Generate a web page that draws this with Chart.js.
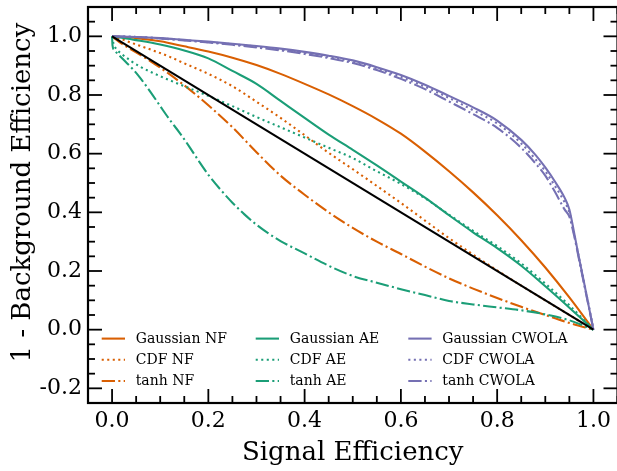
<!DOCTYPE html>
<html>
<head>
<meta charset="utf-8">
<script src="https://cdn.jsdelivr.net/npm/chart.js@4.4.0/dist/chart.umd.min.js"></script>
<style>
html,body{margin:0;padding:0;overflow:hidden;background:#fff;width:617px;height:471px}
canvas{display:block}
</style>
</head>
<body>
<canvas id="c" width="620" height="471" style="width:620px;height:471px"></canvas>
<script>
// ---------- data ----------
const xTickValues = [0, 0.2, 0.4, 0.6, 0.8, 1.0];
const yTickValues = [-0.2, 0, 0.2, 0.4, 0.6, 0.8, 1.0];

const gaussianNF_x = [0,0.02,0.05,0.1,0.15,0.2,0.25,0.3,0.35,0.4,0.45,0.5,0.55,0.6,0.65,0.7,0.75,0.8,0.85,0.9,0.95,1.0];
const gaussianNF_y = [1,0.998,0.994,0.983,0.966,0.948,0.927,0.902,0.872,0.838,0.802,0.762,0.718,0.668,0.607,0.54,0.468,0.39,0.305,0.212,0.11,0];

const cdfNF_x = [0,0.02,0.04,0.08,0.12,0.15,0.2,0.25,0.3,0.35,0.4,0.45,0.5,0.55,0.6,0.65,0.7,0.75,0.8,0.85,0.9,0.95,1.0];
const cdfNF_y = [1,0.99,0.978,0.955,0.93,0.908,0.872,0.83,0.777,0.722,0.663,0.603,0.547,0.49,0.432,0.372,0.312,0.256,0.202,0.15,0.1,0.05,0];

const tanhNF_x = [0,0.02,0.04,0.08,0.12,0.16,0.2,0.25,0.3,0.35,0.4,0.45,0.5,0.55,0.6,0.65,0.7,0.75,0.8,0.85,0.9,0.95,1.0];
const tanhNF_y = [1,0.975,0.955,0.915,0.87,0.82,0.765,0.69,0.605,0.525,0.46,0.4,0.347,0.3,0.258,0.215,0.175,0.14,0.108,0.078,0.05,0.023,0];

const gaussianAE_x = [0,0.02,0.05,0.1,0.15,0.2,0.25,0.3,0.35,0.4,0.45,0.5,0.55,0.6,0.65,0.7,0.75,0.8,0.85,0.9,0.95,1.0];
const gaussianAE_y = [1,0.995,0.987,0.972,0.952,0.925,0.882,0.838,0.78,0.722,0.665,0.613,0.56,0.505,0.45,0.39,0.332,0.278,0.218,0.148,0.075,0];

const cdfAE_x = [0,0.003,0.01,0.02,0.04,0.06,0.085,0.12,0.15,0.2,0.25,0.3,0.35,0.4,0.45,0.5,0.55,0.6,0.65,0.7,0.75,0.8,0.85,0.9,0.95,1.0];
const cdfAE_y = [1,0.975,0.955,0.94,0.915,0.895,0.875,0.85,0.83,0.797,0.762,0.725,0.69,0.655,0.62,0.585,0.54,0.497,0.448,0.392,0.337,0.285,0.226,0.157,0.083,0];

const tanhAE_x = [0,0.001,0.005,0.015,0.03,0.045,0.06,0.08,0.1,0.12,0.14,0.16,0.18,0.2,0.225,0.25,0.275,0.3,0.325,0.35,0.4,0.45,0.5,0.55,0.6,0.65,0.7,0.75,0.8,0.85,0.9,0.95,1.0];
const tanhAE_y = [1,0.968,0.952,0.935,0.91,0.885,0.855,0.81,0.762,0.715,0.672,0.625,0.575,0.528,0.478,0.433,0.393,0.358,0.328,0.302,0.26,0.218,0.183,0.16,0.138,0.118,0.098,0.086,0.076,0.066,0.052,0.032,0];

const cwola_x = [0,0.05,0.1,0.15,0.2,0.25,0.3,0.35,0.4,0.45,0.5,0.55,0.6,0.65,0.7,0.75,0.8,0.85,0.88,0.9,0.92,0.94,0.95,0.96,0.97,0.98,0.99,1.0];
const gaussianCWOLA_y = [1,0.998,0.994,0.988,0.982,0.975,0.967,0.958,0.947,0.934,0.918,0.895,0.868,0.835,0.797,0.758,0.713,0.647,0.595,0.553,0.505,0.45,0.41,0.33,0.245,0.165,0.082,0];
const cdfCWOLA_y = [1,0.998,0.993,0.987,0.98,0.973,0.965,0.955,0.944,0.93,0.914,0.891,0.862,0.828,0.79,0.748,0.703,0.635,0.58,0.54,0.49,0.435,0.4,0.325,0.245,0.165,0.085,0];
const tanhCWOLA_y = [1,0.998,0.993,0.986,0.979,0.971,0.962,0.952,0.94,0.926,0.909,0.885,0.855,0.82,0.778,0.735,0.688,0.62,0.566,0.525,0.47,0.41,0.385,0.32,0.24,0.16,0.08,0];

const random_x = [0, 1];
const random_y = [1, 0];

const labels = ['Gaussian NF','CDF NF','tanh NF','Gaussian AE','CDF AE','tanh AE','Gaussian CWOLA','CDF CWOLA','tanh CWOLA'];

// ---------- styling ----------
const ORANGE = '#d95f02', GREEN = '#1b9e77', PURPLE = '#7570b3';
const LW = 2.08;
const DOTTED = [2.08, 3.44];
const DASHDOT = [13.3, 3.3, 2.08, 3.3];
const SERIF = '"DejaVu Serif", "Liberation Serif", serif';

const pts = (xs, ys) => xs.map((v, i) => ({x: v, y: ys[i]}));
const mk = (label, xs, ys, color, dash, order) => ({
  label, data: pts(xs, ys), borderColor: color, backgroundColor: color,
  borderDash: dash, borderWidth: LW, pointRadius: 0, fill: false,
  cubicInterpolationMode: 'monotone', borderJoinStyle: 'round', order
});

const datasets = [
  mk(labels[0], gaussianNF_x, gaussianNF_y, ORANGE, [], 10),
  mk(labels[1], cdfNF_x, cdfNF_y, ORANGE, DOTTED, 9),
  mk(labels[2], tanhNF_x, tanhNF_y, ORANGE, DASHDOT, 8),
  mk(labels[3], gaussianAE_x, gaussianAE_y, GREEN, [], 7),
  mk(labels[4], cdfAE_x, cdfAE_y, GREEN, DOTTED, 6),
  mk(labels[5], tanhAE_x, tanhAE_y, GREEN, DASHDOT, 5),
  mk(labels[6], cwola_x, gaussianCWOLA_y, PURPLE, [], 4),
  mk(labels[7], cwola_x, cdfCWOLA_y, PURPLE, DOTTED, 3),
  mk(labels[8], cwola_x, tanhCWOLA_y, PURPLE, DASHDOT, 2),
  Object.assign(mk('', random_x, random_y, '#000000', [], 0), {cubicInterpolationMode: 'default', tension: 0})
];

const fmt = v => (Math.abs(v) < 1e-9 ? 0 : v).toFixed(1);

// frame + inward ticks on all four sides (major 0.2, minor 0.05)
const frameTicks = {
  id: 'frameTicks',
  afterDatasetsDraw(chart) {
    const {ctx, chartArea: {left, right, top, bottom}, scales: {x, y}} = chart;
    ctx.save();
    ctx.strokeStyle = '#000';
    ctx.lineWidth = 1.8;
    ctx.setLineDash([]);
    const seg = (a, b, c, d) => { ctx.beginPath(); ctx.moveTo(a, b); ctx.lineTo(c, d); ctx.stroke(); };
    const MAJ = 14, MIN = 7;
    for (let i = -2; i <= 22; i++) {
      const v = i * 0.05;
      if (v < x.min - 1e-9 || v > x.max + 1e-9) continue;
      const p = x.getPixelForValue(v);
      const L = (i % 4 === 0) ? MAJ : MIN;
      seg(p, bottom, p, bottom - L);
      seg(p, top, p, top + L);
    }
    for (let i = -6; i <= 23; i++) {
      const v = i * 0.05;
      if (v < y.min - 1e-9 || v > y.max + 1e-9) continue;
      const p = y.getPixelForValue(v);
      const L = (Math.abs(i) % 4 === 0) ? MAJ : MIN;
      seg(left, p, left + L, p);
      seg(right, p, right - L, p);
    }
    ctx.lineWidth = 2.2;
    ctx.strokeRect(left, top, right - left, bottom - top);
    ctx.restore();
  }
};

// three-column legend inside the plot, lower left
const legendCols = [[0, 1, 2], [3, 4, 5], [6, 7, 8]];
const gridLegend = {
  id: 'gridLegend',
  afterDraw(chart) {
    const {ctx, chartArea: {left, bottom}} = chart;
    const colX = [13.7, 167.7, 320.3];
    ctx.save();
    ctx.font = '14px ' + SERIF;
    ctx.textBaseline = 'middle';
    ctx.textAlign = 'left';
    legendCols.forEach((col, ci) => col.forEach((di, ri) => {
      const ds = chart.data.datasets[di];
      const hx = left + colX[ci];
      const hy = bottom - 64.4 + ri * 21.2;
      ctx.strokeStyle = ds.borderColor;
      ctx.lineWidth = LW;
      ctx.setLineDash(ds.borderDash || []);
      ctx.beginPath(); ctx.moveTo(hx, hy); ctx.lineTo(hx + 23.3, hy); ctx.stroke();
      ctx.setLineDash([]);
      ctx.fillStyle = '#000';
      ctx.fillText(ds.label, hx + 34, hy + 0.5);
    }));
    ctx.restore();
  }
};

const noPad = s => { s.paddingTop = 0; s.paddingBottom = 0; s.paddingLeft = 0; s.paddingRight = 0; };

new Chart(document.getElementById('c'), {
  type: 'line',
  data: {datasets},
  options: {
    responsive: false,
    animation: false,
    devicePixelRatio: 1,
    layout: {padding: {top: 7, right: 2.5, left: 0, bottom: 0}},
    plugins: {legend: {display: false}, tooltip: {enabled: false}},
    scales: {
      x: {
        type: 'linear', min: -0.05, max: 1.05,
        grid: {display: false, drawTicks: false},
        border: {display: false},
        afterFit(s) { s.height = 68; noPad(s); },
        afterBuildTicks(s) { s.ticks = xTickValues.map(v => ({value: v})); },
        ticks: {padding: 5, color: '#000', font: {family: SERIF, size: 22}, callback: fmt, maxRotation: 0, autoSkip: false},
        title: {display: true, text: 'Signal Efficiency', color: '#000', font: {family: SERIF, size: 26}, padding: {top: 0, bottom: 2}}
      },
      y: {
        type: 'linear', min: -0.25, max: 1.1,
        grid: {display: false, drawTicks: false},
        border: {display: false},
        afterFit(s) { s.width = 88; noPad(s); },
        afterBuildTicks(s) { s.ticks = yTickValues.map(v => ({value: v})); },
        ticks: {padding: 6, color: '#000', font: {family: SERIF, size: 22}, callback: fmt, autoSkip: false},
        title: {display: true, text: '   1 - Background Efficiency', color: '#000', font: {family: SERIF, size: 26}, padding: {top: 8, bottom: 0}}
      }
    }
  },
  plugins: [frameTicks, gridLegend]
});
</script>
</body>
</html>
